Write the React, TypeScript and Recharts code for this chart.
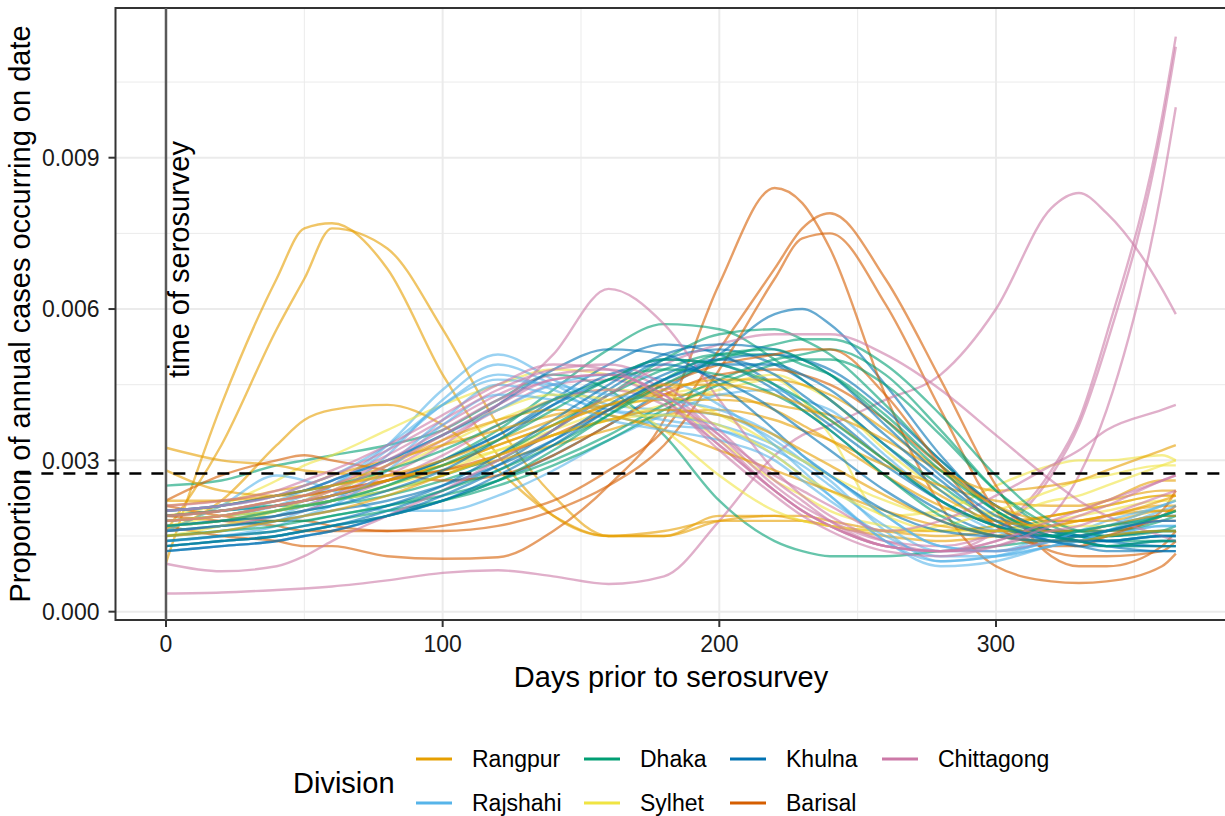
import { CartesianGrid, Line, LineChart, ReferenceArea, ReferenceLine, XAxis, YAxis } from 'recharts'

// days before the serosurvey at which each district curve is sampled
const days = [0, 20, 40, 50, 60, 80, 100, 120, 140, 160, 180, 200, 220, 230, 240, 260, 280, 300, 320, 330, 340, 360, 365]

const rangpur = [
  [0.00097, 0.0041, 0.0066, 0.0076, 0.0077, 0.0068, 0.0047, 0.0031, 0.0019, 0.0015, 0.0015, 0.0019, 0.0019, 0.0018, 0.0017, 0.0015, 0.0014, 0.0015, 0.0017, 0.0018, 0.0019, 0.0021, 0.0021],
  [0.0016, 0.0033, 0.0056, 0.0066, 0.0076, 0.0072, 0.0056, 0.0037, 0.0023, 0.0015, 0.0015, 0.0018, 0.0019, 0.0019, 0.0018, 0.0016, 0.0015, 0.0016, 0.0018, 0.0018, 0.0019, 0.002, 0.002],
  [0.0016, 0.0022, 0.0033, 0.0038, 0.004, 0.0041, 0.0037, 0.0028, 0.0019, 0.0015, 0.0016, 0.0018, 0.0018, 0.0018, 0.0017, 0.0016, 0.0016, 0.0017, 0.0019, 0.002, 0.0021, 0.0023, 0.0023],
  [0.00325, 0.003, 0.0029, 0.0028, 0.00275, 0.0027, 0.0028, 0.003, 0.0033, 0.0036, 0.0039, 0.004, 0.0038, 0.0036, 0.0034, 0.0029, 0.0025, 0.0022, 0.0021, 0.0021, 0.0022, 0.0024, 0.0024],
  [0.0028, 0.0024, 0.0023, 0.0023, 0.0024, 0.0026, 0.0029, 0.0033, 0.0037, 0.0041, 0.0043, 0.0043, 0.004, 0.0037, 0.0034, 0.0027, 0.0021, 0.0018, 0.0019, 0.002, 0.0022, 0.0026, 0.0026],
  [0.0022, 0.0022, 0.0024, 0.0025, 0.0027, 0.003, 0.0033, 0.0036, 0.0039, 0.0041, 0.0042, 0.0042, 0.0041, 0.004, 0.0039, 0.0034, 0.0028, 0.0024, 0.0025, 0.0026, 0.0028, 0.0032, 0.0033],
  [0.0019, 0.002, 0.0022, 0.0023, 0.0025, 0.0029, 0.0034, 0.0038, 0.004, 0.0039, 0.0036, 0.0032, 0.0028, 0.0026, 0.0024, 0.002, 0.0017, 0.0016, 0.0016, 0.0016, 0.0017, 0.0019, 0.0019],
  [0.0018, 0.0019, 0.0021, 0.0022, 0.0023, 0.0026, 0.0029, 0.0033, 0.0037, 0.0041, 0.0044, 0.0046, 0.0046, 0.0045, 0.0043, 0.0036, 0.0028, 0.0021, 0.0018, 0.0018, 0.0018, 0.002, 0.002],
  [0.0015, 0.0016, 0.0018, 0.0019, 0.002, 0.0023, 0.0027, 0.0031, 0.0035, 0.0038, 0.004, 0.0039, 0.0035, 0.0032, 0.0029, 0.0023, 0.0018, 0.0015, 0.0014, 0.0014, 0.0015, 0.0016, 0.0016],
  [0.0021, 0.0022, 0.0023, 0.0024, 0.0025, 0.0027, 0.003, 0.0034, 0.0038, 0.0042, 0.0045, 0.0045, 0.0043, 0.0041, 0.0038, 0.003, 0.0023, 0.0018, 0.0017, 0.0018, 0.0019, 0.0022, 0.0023],
]

const rajshahi = [
  [0.0017, 0.0018, 0.002, 0.0022, 0.0025, 0.0033, 0.0044, 0.0051, 0.0046, 0.0041, 0.004, 0.0039, 0.0034, 0.003, 0.0026, 0.0016, 0.001, 0.0011, 0.0014, 0.0015, 0.0016, 0.0019, 0.0019],
  [0.0016, 0.0017, 0.0019, 0.0021, 0.0023, 0.0031, 0.0042, 0.0049, 0.0045, 0.004, 0.0038, 0.0036, 0.0031, 0.0027, 0.0023, 0.0014, 0.0009, 0.001, 0.0013, 0.0014, 0.0015, 0.0017, 0.0017],
  [0.0018, 0.0019, 0.0021, 0.0023, 0.0025, 0.0032, 0.0041, 0.0047, 0.0044, 0.0039, 0.0037, 0.0036, 0.0032, 0.0029, 0.0025, 0.0017, 0.0012, 0.0012, 0.0015, 0.0016, 0.0018, 0.0021, 0.0022],
  [0.0015, 0.0016, 0.0018, 0.002, 0.0022, 0.0029, 0.0038, 0.0045, 0.0043, 0.004, 0.0039, 0.0037, 0.0033, 0.003, 0.0027, 0.0019, 0.0013, 0.0012, 0.0014, 0.0015, 0.0016, 0.0018, 0.0018],
  [0.0016, 0.0021, 0.0027, 0.0026, 0.0024, 0.002, 0.002, 0.0023, 0.0028, 0.0034, 0.0039, 0.0043, 0.0044, 0.0042, 0.004, 0.0031, 0.0022, 0.0016, 0.0014, 0.0014, 0.0015, 0.0017, 0.0017],
  [0.0019, 0.002, 0.0022, 0.0024, 0.0026, 0.003, 0.0035, 0.004, 0.0045, 0.0047, 0.0046, 0.0041, 0.0033, 0.0028, 0.0023, 0.0014, 0.001, 0.0011, 0.0013, 0.0014, 0.0016, 0.002, 0.0021],
  [0.0014, 0.0015, 0.0017, 0.0019, 0.0021, 0.0028, 0.0037, 0.0043, 0.0042, 0.0038, 0.0036, 0.0034, 0.003, 0.0026, 0.0022, 0.0015, 0.0011, 0.0011, 0.0013, 0.0014, 0.0016, 0.0019, 0.002],
  [0.002, 0.0021, 0.0023, 0.0025, 0.0027, 0.0033, 0.0041, 0.0046, 0.0045, 0.0043, 0.0042, 0.004, 0.0035, 0.0031, 0.0027, 0.0019, 0.0013, 0.0012, 0.0014, 0.0016, 0.0017, 0.0021, 0.0022],
]

const dhaka = [
  [0.0025, 0.0026, 0.0029, 0.003, 0.0031, 0.0033, 0.0036, 0.0042, 0.0047, 0.0044, 0.0035, 0.0022, 0.0014, 0.0012, 0.0011, 0.0011, 0.0012, 0.0013, 0.0014, 0.0014, 0.0015, 0.0016, 0.0016],
  [0.0018, 0.0019, 0.002, 0.0021, 0.0022, 0.0025, 0.003, 0.0036, 0.0044, 0.0052, 0.0057, 0.0056, 0.005, 0.0046, 0.0042, 0.0033, 0.0025, 0.0018, 0.0015, 0.0015, 0.0015, 0.0016, 0.0017],
  [0.0017, 0.0018, 0.0019, 0.002, 0.0021, 0.0023, 0.0026, 0.003, 0.0036, 0.0043, 0.005, 0.0055, 0.0056, 0.0054, 0.0051, 0.0041, 0.003, 0.0021, 0.0016, 0.0015, 0.0014, 0.0014, 0.0014],
  [0.0016, 0.0017, 0.0018, 0.0018, 0.0019, 0.0021, 0.0023, 0.0026, 0.003, 0.0035, 0.0041, 0.0046, 0.005, 0.0051, 0.0052, 0.0047, 0.0036, 0.0024, 0.0016, 0.0014, 0.0013, 0.0013, 0.0013],
  [0.0019, 0.002, 0.0021, 0.0021, 0.0022, 0.0024, 0.0027, 0.0031, 0.0037, 0.0043, 0.0048, 0.0051, 0.0051, 0.0049, 0.0047, 0.0039, 0.0029, 0.002, 0.0016, 0.0016, 0.0016, 0.0018, 0.0019],
  [0.0014, 0.0015, 0.0016, 0.0017, 0.0018, 0.002, 0.0022, 0.0025, 0.0029, 0.0034, 0.004, 0.0045, 0.0049, 0.005, 0.005, 0.0045, 0.0035, 0.0024, 0.0017, 0.0015, 0.0014, 0.0015, 0.0015],
  [0.002, 0.0021, 0.0023, 0.0024, 0.0025, 0.0028, 0.0032, 0.0037, 0.0042, 0.0046, 0.0048, 0.0047, 0.0043, 0.004, 0.0036, 0.0027, 0.0019, 0.0015, 0.0014, 0.0015, 0.0016, 0.0019, 0.002],
  [0.0015, 0.0016, 0.0017, 0.0018, 0.0019, 0.0021, 0.0024, 0.0028, 0.0033, 0.0039, 0.0045, 0.005, 0.0053, 0.0054, 0.0054, 0.0049, 0.0039, 0.0027, 0.0018, 0.0016, 0.0015, 0.0016, 0.0016],
  [0.0013, 0.0014, 0.0015, 0.0016, 0.0017, 0.0019, 0.0022, 0.0026, 0.0032, 0.0039, 0.0046, 0.0051, 0.0052, 0.005, 0.0047, 0.0038, 0.0028, 0.002, 0.0015, 0.0014, 0.0013, 0.0014, 0.0014],
  [0.0017, 0.0018, 0.002, 0.0021, 0.0022, 0.0025, 0.0029, 0.0034, 0.004, 0.0046, 0.005, 0.0049, 0.0045, 0.0042, 0.0038, 0.003, 0.0022, 0.0017, 0.0015, 0.0016, 0.0017, 0.0019, 0.002],
]

const sylhet = [
  [0.0016, 0.0021, 0.0026, 0.0029, 0.0031, 0.0036, 0.0041, 0.0045, 0.0048, 0.0047, 0.0042, 0.0034, 0.0026, 0.0023, 0.002, 0.0017, 0.0016, 0.0017, 0.0019, 0.002, 0.0021, 0.0023, 0.0023],
  [0.0019, 0.0021, 0.0023, 0.0024, 0.0025, 0.0027, 0.0029, 0.0032, 0.0035, 0.0038, 0.0041, 0.0044, 0.0046, 0.0042, 0.0035, 0.0019, 0.002, 0.0025, 0.0029, 0.003, 0.003, 0.0031, 0.003],
  [0.0017, 0.0018, 0.002, 0.0021, 0.0022, 0.0025, 0.0028, 0.0032, 0.0036, 0.004, 0.0043, 0.0045, 0.0047, 0.0045, 0.0042, 0.0032, 0.0024, 0.0019, 0.0017, 0.0017, 0.0017, 0.0018, 0.0018],
  [0.0017, 0.0019, 0.0021, 0.0022, 0.0024, 0.0028, 0.0033, 0.0038, 0.0042, 0.0044, 0.0043, 0.0039, 0.0033, 0.003, 0.0027, 0.0022, 0.0019, 0.0019, 0.0022, 0.0023, 0.0025, 0.0029, 0.003],
  [0.0015, 0.0017, 0.002, 0.0022, 0.0024, 0.0029, 0.0035, 0.004, 0.0043, 0.0042, 0.0036, 0.0027, 0.002, 0.0018, 0.0017, 0.0016, 0.0017, 0.002, 0.0024, 0.0026, 0.0027, 0.0029, 0.0029],
  [0.0018, 0.0019, 0.002, 0.0021, 0.0022, 0.0024, 0.0027, 0.0031, 0.0035, 0.0038, 0.0039, 0.0037, 0.0031, 0.0027, 0.0024, 0.0019, 0.0016, 0.0016, 0.0018, 0.0019, 0.002, 0.0022, 0.0022],
]

const khulna = [
  [0.0012, 0.0013, 0.0014, 0.0015, 0.0016, 0.0019, 0.0022, 0.0026, 0.0031, 0.0037, 0.0044, 0.0051, 0.0059, 0.006, 0.0057, 0.0045, 0.0031, 0.002, 0.0015, 0.0014, 0.0013, 0.0013, 0.0013],
  [0.0018, 0.0019, 0.0021, 0.0022, 0.0023, 0.0026, 0.003, 0.0035, 0.0042, 0.0049, 0.0053, 0.0051, 0.0045, 0.0041, 0.0037, 0.0029, 0.0022, 0.0017, 0.0015, 0.0015, 0.0015, 0.0016, 0.0016],
  [0.0013, 0.0014, 0.0015, 0.0016, 0.0017, 0.002, 0.0024, 0.0029, 0.0036, 0.0044, 0.005, 0.0052, 0.0049, 0.0046, 0.0042, 0.0033, 0.0024, 0.0017, 0.0014, 0.0013, 0.0013, 0.0014, 0.0014],
  [0.0019, 0.002, 0.0021, 0.0022, 0.0023, 0.0026, 0.003, 0.0035, 0.0041, 0.0046, 0.005, 0.0049, 0.0044, 0.004, 0.0036, 0.0027, 0.002, 0.0016, 0.0016, 0.0016, 0.0017, 0.0019, 0.0019],
  [0.0016, 0.0017, 0.0018, 0.0019, 0.002, 0.0022, 0.0025, 0.0029, 0.0034, 0.004, 0.0046, 0.005, 0.0051, 0.005, 0.0048, 0.004, 0.003, 0.0021, 0.0016, 0.0015, 0.0014, 0.0013, 0.0013],
  [0.0012, 0.0013, 0.0014, 0.0015, 0.0016, 0.0019, 0.0023, 0.0028, 0.0034, 0.0041, 0.0047, 0.005, 0.0047, 0.0043, 0.0039, 0.003, 0.0022, 0.0017, 0.0015, 0.0014, 0.0014, 0.0015, 0.0015],
  [0.002, 0.0021, 0.0023, 0.0024, 0.0026, 0.003, 0.0035, 0.0041, 0.0048, 0.0052, 0.0051, 0.0045, 0.0036, 0.0031, 0.0027, 0.002, 0.0016, 0.0015, 0.0015, 0.0015, 0.0016, 0.0018, 0.0018],
  [0.0014, 0.0015, 0.0016, 0.0017, 0.0018, 0.0021, 0.0025, 0.0031, 0.0038, 0.0045, 0.0051, 0.0053, 0.0052, 0.005, 0.0047, 0.0037, 0.0027, 0.0019, 0.0015, 0.0014, 0.0013, 0.0012, 0.0012],
  [0.0017, 0.0018, 0.0019, 0.002, 0.0021, 0.0024, 0.0028, 0.0034, 0.0041, 0.0047, 0.0049, 0.0046, 0.004, 0.0036, 0.0032, 0.0024, 0.0018, 0.0015, 0.0014, 0.0014, 0.0014, 0.0015, 0.0015],
  [0.0013, 0.0014, 0.0015, 0.0016, 0.0017, 0.0019, 0.0022, 0.0027, 0.0033, 0.004, 0.0046, 0.0049, 0.0049, 0.0047, 0.0044, 0.0035, 0.0026, 0.0018, 0.0014, 0.0013, 0.0012, 0.0012, 0.0012],
]

const barisal = [
  [0.0017, 0.0015, 0.0014, 0.0013, 0.0013, 0.0011, 0.00105, 0.00108, 0.0016, 0.0025, 0.0038, 0.0065, 0.0084, 0.0081, 0.0072, 0.0043, 0.0021, 0.0009, 0.0006, 0.00057, 0.0006, 0.0009, 0.00115],
  [0.0021, 0.0019, 0.0018, 0.0018, 0.0017, 0.0016, 0.0017, 0.0019, 0.0022, 0.0028, 0.0036, 0.0052, 0.0068, 0.0076, 0.0079, 0.0066, 0.0046, 0.0025, 0.0011, 0.0009, 0.0009, 0.0013, 0.0016],
  [0.0019, 0.0018, 0.0017, 0.0016, 0.0016, 0.0016, 0.0016, 0.0017, 0.002, 0.0025, 0.0033, 0.0048, 0.0066, 0.0074, 0.0075, 0.0061, 0.004, 0.002, 0.0012, 0.0011, 0.0011, 0.0012, 0.0014],
  [0.0022, 0.0027, 0.003, 0.0031, 0.003, 0.0028, 0.0026, 0.0027, 0.0031, 0.0037, 0.0043, 0.0047, 0.0048, 0.0047, 0.0045, 0.0038, 0.0029, 0.0021, 0.0016, 0.0016, 0.0016, 0.0019, 0.0021],
  [0.0019, 0.002, 0.0022, 0.0023, 0.0024, 0.0026, 0.0028, 0.0031, 0.0035, 0.004, 0.0045, 0.0049, 0.0051, 0.0052, 0.0052, 0.0043, 0.0029, 0.0017, 0.0013, 0.0013, 0.0015, 0.002, 0.0024],
]

const chittagong = [
  [0.00036, 0.00038, 0.00043, 0.00046, 0.0005, 0.00062, 0.00077, 0.00082, 0.0007, 0.00055, 0.0007, 0.0018, 0.0031, 0.0035, 0.0037, 0.0042, 0.0047, 0.006, 0.008, 0.0083, 0.0079, 0.0064, 0.0059],
  [0.0017, 0.0018, 0.002, 0.0021, 0.0023, 0.0028, 0.0034, 0.004, 0.0045, 0.0046, 0.0042, 0.0033, 0.0024, 0.002, 0.0017, 0.0013, 0.0012, 0.0016, 0.0028, 0.0038, 0.0055, 0.0098, 0.0114],
  [0.002, 0.0021, 0.0023, 0.0024, 0.0026, 0.0031, 0.0037, 0.0043, 0.0047, 0.0048, 0.0044, 0.0035, 0.0025, 0.0021, 0.0018, 0.0014, 0.0013, 0.0016, 0.0027, 0.0037, 0.0053, 0.0096, 0.0112],
  [0.0016, 0.0017, 0.0019, 0.002, 0.0022, 0.0026, 0.0031, 0.0037, 0.0042, 0.0044, 0.0041, 0.0033, 0.0024, 0.002, 0.0017, 0.0013, 0.0012, 0.0014, 0.0019, 0.0027, 0.004, 0.0084, 0.01],
  [0.0018, 0.0019, 0.0021, 0.0022, 0.0023, 0.0027, 0.0033, 0.0041, 0.0051, 0.0064, 0.0057, 0.0042, 0.0028, 0.0023, 0.0019, 0.0014, 0.0012, 0.0012, 0.0014, 0.0015, 0.0016, 0.0018, 0.0018],
  [0.00095, 0.0008, 0.0009, 0.0011, 0.0014, 0.0019, 0.0024, 0.003, 0.0036, 0.0043, 0.0049, 0.0053, 0.0055, 0.0055, 0.0055, 0.0051, 0.0044, 0.0035, 0.0026, 0.0022, 0.0019, 0.0015, 0.0014],
  [0.0019, 0.002, 0.0022, 0.0023, 0.0025, 0.003, 0.0036, 0.0042, 0.0046, 0.0047, 0.0043, 0.0035, 0.0027, 0.0024, 0.0021, 0.0016, 0.0018, 0.0023, 0.0029, 0.0032, 0.0036, 0.004, 0.0041],
  [0.002, 0.0021, 0.0023, 0.0025, 0.0027, 0.0032, 0.0038, 0.0044, 0.0048, 0.0049, 0.0045, 0.0036, 0.0026, 0.0022, 0.0018, 0.0013, 0.0012, 0.0013, 0.0016, 0.0017, 0.0019, 0.0023, 0.0024],
  [0.0018, 0.0019, 0.0021, 0.0022, 0.0024, 0.0029, 0.0035, 0.0041, 0.0046, 0.0047, 0.0043, 0.0034, 0.0024, 0.002, 0.0017, 0.0013, 0.0012, 0.0014, 0.0018, 0.002, 0.0022, 0.0026, 0.0027],
  [0.0021, 0.0022, 0.0024, 0.0026, 0.0028, 0.0033, 0.0039, 0.0045, 0.0049, 0.0048, 0.0042, 0.0032, 0.0023, 0.0019, 0.0016, 0.0012, 0.0011, 0.0013, 0.0017, 0.0019, 0.0021, 0.0026, 0.0027],
]

const divisions = [
  { name: 'Rangpur', color: '#E69F00', series: rangpur },
  { name: 'Rajshahi', color: '#56B4E9', series: rajshahi },
  { name: 'Dhaka', color: '#009E73', series: dhaka },
  { name: 'Sylhet', color: '#F0E442', series: sylhet },
  { name: 'Khulna', color: '#0072B2', series: khulna },
  { name: 'Barisal', color: '#D55E00', series: barisal },
  { name: 'Chittagong', color: '#CC79A7', series: chittagong },
]

const xTicks = [0, 100, 200, 300]
const xMinor = [50, 150, 250, 350]
const yTicks = [0, 0.003, 0.006, 0.009]
const yMinor = [0.0015, 0.0045, 0.0075, 0.0105]
const uniformRate = 1 / 365

const xDomain: [number, number] = [-18.25, 383.25]
const yDomain: [number, number] = [-0.000165, 0.011968]

const rows = days.map((day, i) => {
  const row: Record<string, number> = { day }
  divisions.forEach((d) => d.series.forEach((s, j) => (row[`${d.name}${j}`] = s[i])))
  return row
})

// interleave districts so no single division sits on top of the pile
const maxDistricts = Math.max(...divisions.map((d) => d.series.length))
const lineKeys: { key: string; color: string }[] = []
for (let j = 0; j < maxDistricts; j++) {
  divisions.forEach((d) => {
    if (j < d.series.length) lineKeys.push({ key: `${d.name}${j}`, color: d.color })
  })
}

const font = "'Liberation Sans', Arial, sans-serif"
const legendCols = [
  { x: 416, names: ['Rangpur', 'Rajshahi'] },
  { x: 584, names: ['Dhaka', 'Sylhet'] },
  { x: 730, names: ['Khulna', 'Barisal'] },
  { x: 882, names: ['Chittagong'] },
]
const colorOf = (name: string) => divisions.find((d) => d.name === name)!.color

export default function App() {
  return (
    <div style={{ position: 'absolute', left: 0, top: 0, width: 1225, height: 816, overflow: 'hidden', background: '#fff', fontFamily: font }}>
      <LineChart width={1230} height={816} data={rows} margin={{ top: 8, right: 3.7, bottom: 0, left: 0 }}>
        <CartesianGrid stroke='#EBEBEB' strokeWidth={1} horizontalValues={yMinor} verticalValues={xMinor} />
        <CartesianGrid stroke='#EBEBEB' strokeWidth={2} horizontalValues={yTicks} verticalValues={xTicks} />
        <XAxis
          type='number'
          dataKey='day'
          domain={xDomain}
          ticks={xTicks}
          allowDataOverflow
          height={196}
          axisLine={false}
          tickSize={7}
          tickMargin={9}
          tickLine={{ stroke: '#333', strokeWidth: 2 }}
          tick={{ fill: '#1a1a1a', fontSize: 23, fontFamily: font }}
        />
        <YAxis
          type='number'
          domain={yDomain}
          ticks={yTicks}
          allowDataOverflow
          width={115.5}
          axisLine={false}
          tickSize={7}
          tickMargin={9}
          tickLine={{ stroke: '#333', strokeWidth: 2 }}
          tick={{ fill: '#1a1a1a', fontSize: 23, fontFamily: font }}
          tickFormatter={(v: number) => v.toFixed(3)}
        />
        {lineKeys.map((l) => (
          <Line
            key={l.key}
            dataKey={l.key}
            type='monotone'
            stroke={l.color}
            strokeOpacity={0.6}
            strokeWidth={2.4}
            dot={false}
            activeDot={false}
            isAnimationActive={false}
          />
        ))}
        <ReferenceLine x={0} stroke='#595959' strokeWidth={2.5} />
        <ReferenceLine
          segment={[{ x: -53, y: uniformRate }, { x: 383.25, y: uniformRate }]}
          stroke='#000'
          strokeWidth={2.5}
          strokeDasharray='12 10'
          ifOverflow='visible'
        />
        <ReferenceArea
          x1={xDomain[0]}
          x2={xDomain[1]}
          y1={yDomain[0]}
          y2={yDomain[1]}
          fill='none'
          fillOpacity={0}
          stroke='#333'
          strokeWidth={2}
          ifOverflow='visible'
        />
      </LineChart>
      <svg width={1225} height={816} style={{ position: 'absolute', left: 0, top: 0, pointerEvents: 'none' }} fontFamily={font}>
        <text x={189} y={378} fontSize={29} fill='#000' transform='rotate(-90 189 378)'>
          time of serosurvey
        </text>
        <text x={30} y={314} fontSize={29} fill='#000' textAnchor='middle' transform='rotate(-90 30 314)'>
          Proportion of annual cases occurring on date
        </text>
        <text x={671} y={687} fontSize={29} fill='#000' textAnchor='middle'>
          Days prior to serosurvey
        </text>
        <text x={293} y={783} fontSize={29} fill='#000' dominantBaseline='central'>
          Division
        </text>
        {legendCols.map((col) =>
          col.names.map((name, r) => {
            const y = 759 + r * 44
            return (
              <g key={name}>
                <line x1={col.x} x2={col.x + 36} y1={y} y2={y} stroke={colorOf(name)} strokeWidth={3} />
                <text x={col.x + 56} y={y} fontSize={23} fill='#000' dominantBaseline='central'>
                  {name}
                </text>
              </g>
            )
          })
        )}
      </svg>
    </div>
  )
}
